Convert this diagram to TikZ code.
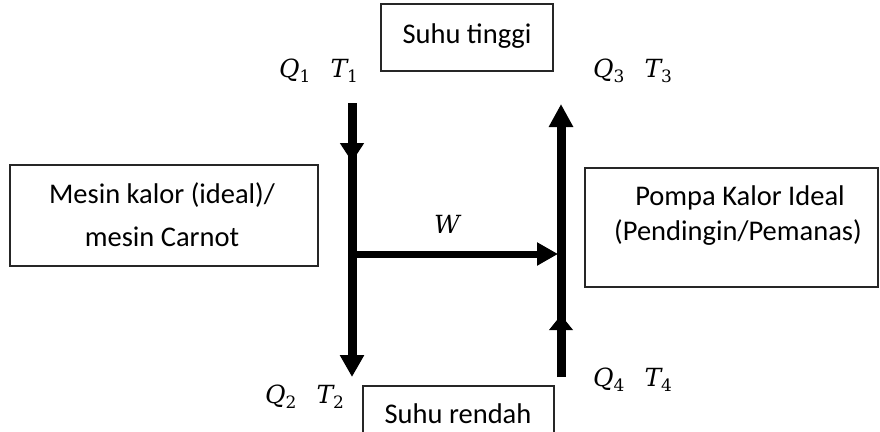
\documentclass[tikz,border=0pt]{standalone}
\usepackage{fontspec}
\setmainfont{Carlito}
\newfontfamily\mathlikefont{DejaVu Serif}
\newcommand{\qlab}[2]{{\itshape #1}\raisebox{-5pt}{\fontsize{17}{18}\selectfont #2}}
\usetikzlibrary{arrows.meta}
\begin{document}
\begin{tikzpicture}[x=1pt,y=-1pt,
  box/.style={draw=black!85, line width=1.1pt, inner sep=0pt, rectangle},
  txt/.style={inner sep=0pt, anchor=base, font=\fontsize{28.5}{34}\selectfont},
  mlabel/.style={inner sep=0pt, anchor=base west, font=\mathlikefont\fontsize{25}{30}\selectfont},
  flow/.style={line width=9pt},
  hflow/.style={line width=7pt}]
\useasboundingbox (0,0) rectangle (880,431);
% boxes
\node[box, minimum width=172pt, minimum height=67pt] (tbox) at (467,37.5) {};
\node[box, minimum width=191pt, minimum height=70pt] (rbox) at (458.5,421) {};
\node[box, minimum width=308pt, minimum height=101pt] (lbox) at (164,215.5) {};
\node[box, minimum width=293pt, minimum height=119pt] (pbox) at (731.5,227.5) {};
% texts
\node[txt] (ttxt) at (467,43) {Suhu tinggi};
\node[txt] (rtxt) at (458,423) {Suhu rendah};
\node[txt] (l1) at (162,203) {Mesin kalor (ideal)/};
\node[txt] (l2) at (162,246) {mesin Carnot};
\node[txt] (p1) at (740,205) {Pompa Kalor Ideal};
\node[txt] (p2) at (738,240) {(Pendingin/Pemanas)};
\node[mlabel] (q1) at (279,77) {\qlab{Q}{1}\hspace{20pt}\qlab{T}{1}};
\node[mlabel] (q3) at (593,77) {\qlab{Q}{3}\hspace{20pt}\qlab{T}{3}};
\node[mlabel] (q2) at (265,403) {\qlab{Q}{2}\hspace{20pt}\qlab{T}{2}};
\node[mlabel] (q4) at (593,386) {\qlab{Q}{4}\hspace{20pt}\qlab{T}{4}};
\node[inner sep=0pt, anchor=base, font=\mathlikefont\itshape\fontsize{25}{30}\selectfont] (w) at (447,233) {W};
% coordinates
\coordinate (lt) at (352,103);
\coordinate (lm) at (352,162);
\coordinate (lb) at (352,377);
\coordinate (rb) at (561,377);
\coordinate (rm) at (561,315);
\coordinate (rt) at (561,104);
\coordinate (hs) at (352,254);
\coordinate (he) at (558,254);
% arrows
\draw[flow, -{Triangle[length=19pt,width=23pt]}] (lt) -- (lm);
\draw[flow, -{Triangle[length=22pt,width=23pt]}] ([yshift=10pt]lm) -- (lb);
\draw[flow, -{Triangle[length=15pt,width=23pt]}] (rb) -- (rm);
\draw[flow, -{Triangle[length=23pt,width=23pt]}] ([yshift=-8pt]rm) -- (rt);
\draw[hflow, -{Triangle[length=21pt,width=22pt]}] (hs) -- (he);
\end{tikzpicture}
\end{document}
